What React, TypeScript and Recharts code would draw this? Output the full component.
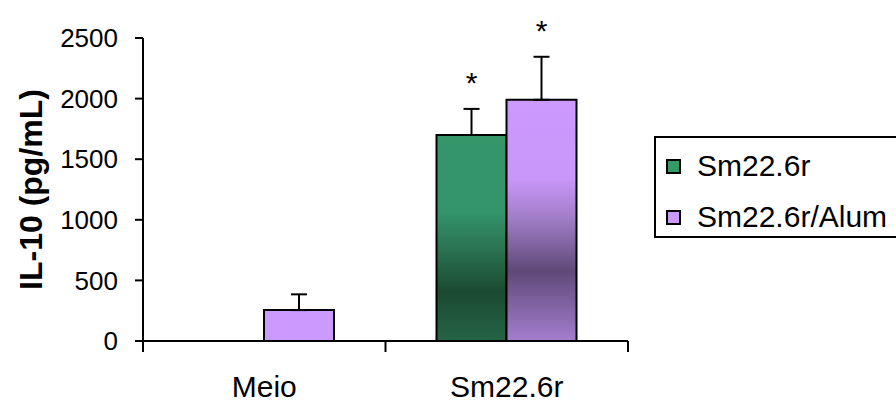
import React from "react";
import { BarChart, Bar, XAxis, YAxis, ErrorBar, Cell, LabelList, Legend, Label } from "recharts";

// values
const categories = ["Meio", "Sm22.6r"];
const sm226r = [0, 1700];
const sm226rErr = [0, 215];
const sm226rSig = ["", "*"];
const sm226rAlum = [255, 1990];
const sm226rAlumErr = [130, 355];
const sm226rAlumSig = ["", "*"];
const yTicks = [0, 500, 1000, 1500, 2000, 2500];
const seriesNames = ["Sm22.6r", "Sm22.6r/Alum"];

const W = 896;
const H = 402;
const MARGIN = { top: 38, right: 268, bottom: 0, left: 0 };
const Y_AXIS_W = 143;
const X_AXIS_H = 61;
const BAND = (W - MARGIN.left - Y_AXIS_W - MARGIN.right) / categories.length;
const FONT = "'Liberation Sans', Arial, sans-serif";

const GREEN = "#339966";
const PURPLE = "#cc99ff";

const data = categories.map((cat, i) => ({
  cat,
  a: sm226r[i],
  aErr: [0, sm226rErr[i]],
  aSig: sm226rSig[i],
  b: sm226rAlum[i],
  bErr: [0, sm226rAlumErr[i]],
  bSig: sm226rAlumSig[i],
}));

// label value carries the marker plus what is needed to find the error cap
const sigKey = (val: string, err: string, sig: string) => (d: any) =>
  d[sig] ? { sig: d[sig], ratio: d[err][1] / d[val] } : null;

// asterisk sits above the error bar cap
const Star = (props: any) => {
  const { value } = props;
  const vb = props.viewBox || props;
  if (!value || !value.sig || !vb) return null;
  const capY = vb.y - vb.height * value.ratio;
  return (
    <text
      x={vb.x + vb.width / 2}
      y={capY - 16}
      textAnchor="middle"
      fontSize={30}
      fontFamily={FONT}
      fill="#000"
    >
      {value.sig}
    </text>
  );
};

const XTick = (props: any) => {
  const { x, y, payload, index } = props;
  return (
    <g>
      <line x1={x - BAND / 2} x2={x - BAND / 2} y1={y} y2={y + 11} stroke="#000" strokeWidth={2} />
      {index === categories.length - 1 && (
        <line x1={x + BAND / 2} x2={x + BAND / 2} y1={y} y2={y + 11} stroke="#000" strokeWidth={2} />
      )}
      <text x={x} y={y + 56} textAnchor="middle" fontSize={30} fontFamily={FONT} fill="#000">
        {payload.value}
      </text>
    </g>
  );
};

const YLabel = (props: any) => {
  const vb = props.viewBox;
  const cx = vb.x + 31;
  const cy = vb.y + vb.height / 2;
  return (
    <text
      x={cx}
      y={cy}
      transform={`rotate(-90, ${cx}, ${cy})`}
      textAnchor="middle"
      dominantBaseline="central"
      fontSize={32}
      fontWeight="bold"
      fontFamily={FONT}
      fill="#000"
    >
      IL-10 (pg/mL)
    </text>
  );
};

const LegendBox = () => (
  <div
    style={{
      position: "relative",
      width: 280,
      height: 102,
      boxSizing: "border-box",
      border: "2px solid #000",
      background: "#fff",
      fontFamily: FONT,
      fontSize: 30,
      color: "#000",
    }}
  >
    {seriesNames.map((name, i) => (
      <div
        key={name}
        style={{ position: "absolute", left: 10, top: 18 + i * 51, height: 20, display: "flex", alignItems: "center", whiteSpace: "nowrap" }}
      >
        <span
          style={{
            display: "inline-block",
            width: 15,
            height: 15,
            boxSizing: "border-box",
            border: "2px solid #000",
            background: i === 0 ? GREEN : PURPLE,
          }}
        />
        <span style={{ marginLeft: 16 }}>{name}</span>
      </div>
    ))}
  </div>
);

export default function App() {
  return (
    <div style={{ position: "absolute", left: 0, top: 0, width: W, height: H, background: "#fff", overflow: "hidden" }}>
      <BarChart width={W} height={H} data={data} margin={MARGIN} barSize={70} barGap={0}>
        <defs>
          <linearGradient id="greenGrad" x1="0" y1="0" x2="0" y2="1">
            <stop offset="0" stopColor="#35966a" />
            <stop offset="0.38" stopColor="#33936a" />
            <stop offset="0.56" stopColor="#2a7250" />
            <stop offset="0.76" stopColor="#1b4a31" />
            <stop offset="1" stopColor="#266446" />
          </linearGradient>
          <linearGradient id="purpleGrad" x1="0" y1="0" x2="0" y2="1">
            <stop offset="0" stopColor="#cc99ff" />
            <stop offset="0.33" stopColor="#c896f8" />
            <stop offset="0.5" stopColor="#9e7cc4" />
            <stop offset="0.71" stopColor="#5f4978" />
            <stop offset="1" stopColor="#a47ecf" />
          </linearGradient>
        </defs>
        <XAxis
          dataKey="cat"
          height={X_AXIS_H}
          axisLine={{ stroke: "#000", strokeWidth: 2 }}
          tickLine={false}
          tickSize={0}
          tickMargin={0}
          tick={<XTick />}
          interval={0}
        />
        <YAxis
          width={Y_AXIS_W}
          domain={[0, 2500]}
          ticks={yTicks}
          interval={0}
          axisLine={{ stroke: "#000", strokeWidth: 2 }}
          tickLine={{ stroke: "#000", strokeWidth: 2 }}
          tickSize={8}
          tickMargin={17}
          tick={{ fontSize: 26, fill: "#000", fontFamily: FONT }}
        >
          <Label content={<YLabel />} />
        </YAxis>
        <Legend
          align="center"
          verticalAlign="middle"
          content={<LegendBox />}
          wrapperStyle={{ left: 654, top: 136, width: 280, height: 102 }}
        />
        <Bar dataKey="a" name={seriesNames[0]} stroke="#000" strokeWidth={2} isAnimationActive={false}>
          {data.map((d, i) => (
            <Cell key={i} fill={d.a > 1000 ? "url(#greenGrad)" : GREEN} />
          ))}
          <ErrorBar dataKey="aErr" direction="y" width={8} stroke="#000" strokeWidth={2} />
          <LabelList dataKey={sigKey("a", "aErr", "aSig")} content={<Star />} />
        </Bar>
        <Bar dataKey="b" name={seriesNames[1]} stroke="#000" strokeWidth={2} isAnimationActive={false}>
          {data.map((d, i) => (
            <Cell key={i} fill={d.b > 1000 ? "url(#purpleGrad)" : PURPLE} />
          ))}
          <ErrorBar dataKey="bErr" direction="y" width={8} stroke="#000" strokeWidth={2} />
          <LabelList dataKey={sigKey("b", "bErr", "bSig")} content={<Star />} />
        </Bar>
      </BarChart>
    </div>
  );
}
